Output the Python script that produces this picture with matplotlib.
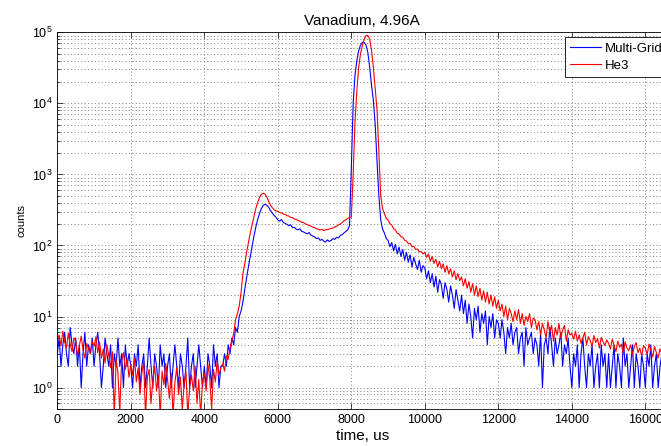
import numpy as np
import matplotlib
matplotlib.use("Agg")
import matplotlib.pyplot as plt
from matplotlib.ticker import LogLocator, FixedLocator

plt.rcParams['font.family'] = ['Liberation Sans', 'DejaVu Sans']
plt.rcParams['mathtext.fontset'] = 'custom'
plt.rcParams['mathtext.rm'] = 'Liberation Sans'
plt.rcParams['mathtext.it'] = 'Liberation Sans'

# time axis, one sample every 50 us
time_us = np.arange(0, 16500, 50)

# Multi-Grid counts (one row = 1000 us)
multigrid = [
    3, 5, 2, 4, 6, 3, 2, 7, 4, 3, 5, 2, 4, 1, 3, 6, 2, 4, 3, 5,
    2, 4, 6, 3, 1, 2, 5, 3, 2, 4, 1, 3, 2, 5, 2, 3, 1, 4, 2, 3,
    2, 1, 3, 2, 4, 1, 2, 3, 1, 2, 5, 2, 1, 3, 2, 1, 4, 2, 3, 1,
    2, 3, 1, 2, 4, 2, 1, 3, 2, 1, 2, 5, 1, 2, 3, 1, 2, 4, 2, 1,
    2, 1, 3, 2, 1, 4, 2, 3, 1, 2, 2, 3, 2, 4, 3, 5, 4, 7, 6, 10,
    12, 16, 24, 35, 50, 70, 100, 135, 180, 230, 280, 330, 365, 380, 370, 345, 310, 285, 265, 250,
    228, 220, 232, 210, 205, 198, 190, 195, 178, 180, 170, 166, 172, 158, 155, 150, 146, 152, 140, 136,
    132, 125, 128, 118, 122, 115, 112, 120, 114, 118, 125, 122, 130, 128, 138, 142, 150, 158, 165, 190,
    1200, 10000, 25000, 40000, 55000, 66000, 72000, 72000, 66000, 52000,
    32000, 18000, 11000, 5000, 1500, 500, 230, 170, 150, 125,
    118, 96, 110, 84, 104, 76, 95, 70, 88, 62, 80, 58, 74, 50, 68, 55, 46, 62, 42, 52,
    48, 34, 44, 30, 40, 26, 37, 22, 33, 28, 18, 30, 24, 16, 27, 20, 13, 24, 17, 12,
    20, 11, 17, 8, 15, 10, 5, 13, 9, 14, 6, 11, 8, 12, 4, 10, 7, 11, 5, 9,
    8, 5, 9, 6, 3, 7, 5, 8, 4, 6, 7, 3, 5, 6, 2, 7, 4, 5, 6, 3,
    5, 4, 2, 6, 1, 4, 5, 3, 7, 4, 2, 5, 3, 4, 6, 2, 4, 3, 5, 2,
    1, 3, 2, 4, 1, 3, 5, 2, 1, 3, 2, 4, 1, 2, 3, 1, 4, 2, 3, 1,
    3, 1, 2, 4, 1, 3, 2, 1, 5, 2, 3, 1, 2, 4, 1, 3, 2, 1, 3, 2,
    1, 3, 2, 4, 1, 2, 3, 1, 2, 3,
]

# He3 counts
he3 = [
    4.8, 5.5, 3.9, 6.2, 4.4, 3.6, 5.8, 4.1, 3.2, 5.0, 4.6, 2.8, 3.9, 5.3, 3.4, 2.6, 4.2, 3.5, 3.0, 4.5,
    3.8, 5.2, 3.1, 4.4, 2.6, 3.5, 2.2, 4.0, 2.8, 1.9, 3.2, 0.4, 2.5, 1.6, 0.45, 2.4, 3.1, 1.8, 2.6, 1.4,
    2.1, 1.5, 2.6, 1.2, 1.9, 0.8, 1.6, 2.3, 0.4, 1.4, 1.8, 0.6, 1.3, 2.0, 0.9, 1.5, 0.4, 1.7, 1.1, 2.2,
    1.3, 0.7, 1.6, 0.4, 1.2, 1.9, 0.8, 1.4, 0.5, 1.1, 1.7, 0.4, 1.0, 1.5, 0.9, 2.0, 0.6, 1.3, 0.4, 1.2,
    1.6, 0.9, 2.1, 1.3, 0.5, 1.8, 1.2, 2.4, 1.5, 1.9, 2.2, 1.7, 2.8, 2.5, 3.6, 4.5, 5.8, 9, 11, 14,
    22, 40, 55, 80, 110, 150, 195, 250, 330, 400, 470, 520, 545, 530, 480, 420, 370, 340, 320, 305,
    302, 290, 288, 276, 274, 262, 260, 248, 247, 236, 234, 223, 221, 212, 210, 200, 198, 189, 188, 181,
    178, 172, 170, 166, 168, 163, 166, 168, 170, 174, 176, 182, 186, 194, 200, 210, 222, 230, 240, 248,
    250, 1000, 5500, 15000, 32000, 50000, 65000, 80000, 90000, 90000,
    80000, 55000, 32000, 16000, 8000, 2000, 500, 330, 280, 240,
    228, 202, 194, 172, 166, 148, 145, 132, 131, 118, 116, 106, 107, 96, 97, 88, 89, 81, 82, 76,
    80, 68, 76, 60, 70, 56, 64, 50, 60, 47, 55, 42, 52, 40, 47, 36, 44, 33, 40, 32,
    36, 27, 34, 25, 31, 22, 29, 20, 27, 19, 25, 17, 23, 16, 22, 15, 20, 14, 19, 13,
    17, 12, 15, 10, 14, 9, 13, 11, 8.5, 12, 9, 12.5, 8, 11, 7.5, 10, 8.5, 11, 7, 9.5,
    9, 6.5, 8.5, 5.5, 8, 6.5, 5, 8.5, 6, 7.5, 4.5, 7, 5.5, 8, 5, 6.5, 7.5, 4.5, 6.5, 5.5,
    5.8, 4.8, 6.2, 4.5, 5.5, 4.2, 5.0, 6.0, 4.0, 5.2, 4.6, 3.8, 5.4, 4.3, 4.9, 3.6, 5.1, 4.4, 3.9, 4.7,
    4.2, 3.5, 4.8, 3.9, 3.2, 4.5, 3.7, 4.1, 3.0, 4.4, 3.6, 3.3, 4.0, 2.9, 3.8, 4.3, 3.1, 3.6, 2.8, 3.9,
    3.6, 2.9, 4.1, 3.3, 2.7, 3.8, 3.1, 2.6, 3.5, 3.0,
]

series_names = ['Multi-Grid', 'He3']
xticks = [0, 2000, 4000, 6000, 8000, 10000, 12000, 14000, 16000]

fig = plt.figure(figsize=(6.61, 4.46), dpi=100)
ax = fig.add_axes([0.0867, 0.083, 0.9224, 0.8446])

ax.plot(time_us, multigrid, color=(0, 0, 1), lw=0.8, label=series_names[0])
ax.plot(time_us, he3, color=(1, 0, 0), lw=0.8, label=series_names[1])

ax.set_yscale('log')
ax.set_ylim(0.5, 1e5)
ax.set_xlim(0, 16590)
ax.xaxis.set_major_locator(FixedLocator(xticks))
ax.yaxis.set_minor_locator(LogLocator(base=10, subs=np.arange(2, 10)))

grid_style = dict(ls=(0, (1, 2.5)), color='0.5', lw=0.7)
ax.grid(True, which='major', axis='both', **grid_style)
ax.grid(True, which='minor', axis='y', **grid_style)

ax.tick_params(which='both', direction='in', top=True, right=True, labelsize=9, width=0.5)
ax.tick_params(which='major', length=4)
ax.tick_params(which='minor', length=2)
for s in ax.spines.values():
    s.set_linewidth(0.6)

ax.set_title('Vanadium, 4.96A', fontsize=11, pad=5)
ax.set_xlabel('time, us', fontsize=11, labelpad=2)
ax.set_ylabel('counts', fontsize=8, labelpad=4)

leg = ax.legend(loc='upper left', bbox_to_anchor=(565 / 661, 1 - 37 / 446),
                bbox_transform=fig.transFigure, borderaxespad=0, fontsize=9.5,
                fancybox=False, framealpha=1, edgecolor='black', handlelength=2.3,
                borderpad=0.4, labelspacing=0.4, handletextpad=0.35)
leg.get_frame().set_linewidth(0.6)

fig.savefig('out.png', dpi=100)
